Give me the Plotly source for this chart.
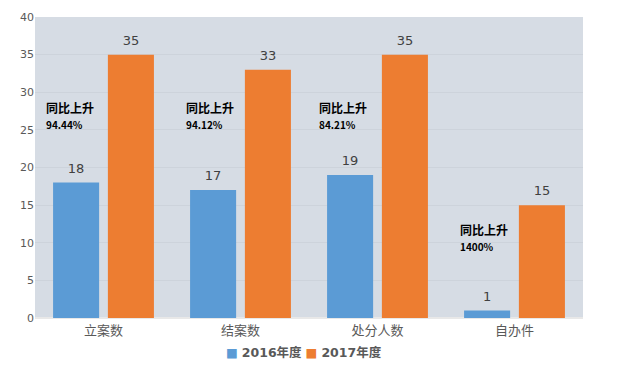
import plotly.graph_objects as go

categories = ["立案数", "结案数", "处分人数", "自办件"]
values_2016 = [18, 17, 19, 1]
values_2017 = [35, 33, 35, 15]
growth_labels = ["94.44%", "94.12%", "84.21%", "1400%"]
series_names = ["2016年度", "2017年度"]

FONT = "DejaVu Sans, Noto Sans CJK SC, sans-serif"
BG = "#D6DCE4"
colors = ["#5B9BD5", "#ED7D31"]

fig = go.Figure()
for name, vals, col, grp in [(series_names[0], values_2016, colors[0], "a"),
                             (series_names[1], values_2017, colors[1], "b")]:
    fig.add_trace(go.Bar(
        x=categories, y=vals, name=name, offsetgroup=grp,
        marker=dict(color=col, line=dict(width=0)),
    ))
for vals, grp in [(values_2016, "a"), (values_2017, "b")]:
    fig.add_trace(go.Scatter(
        x=categories, y=vals, mode="markers+text", offsetgroup=grp,
        text=[str(v) for v in vals], textposition="top center",
        marker=dict(size=9, color="rgba(0,0,0,0)"),
        textfont=dict(size=13, color="#404040", family=FONT),
        showlegend=False, hoverinfo="skip", cliponaxis=False,
    ))

ann_x = [-0.434, 0.588, 1.558, 2.588]
ann_y = [26.9, 26.9, 26.9, 10.7]
for i, g in enumerate(growth_labels):
    fig.add_annotation(
        x=ann_x[i], y=ann_y[i], xref="x", yref="y",
        xanchor="left", yanchor="middle", align="left", showarrow=False,
        text="<b>同比上升</b><br><span style='font-size:10px'><b>" + g + "</b></span>",
        font=dict(size=12, color="#000000", family="Noto Sans CJK SC, DejaVu Sans"),
    )

# legend drawn as text
legend_text = "&nbsp;".join(
    f"<span style='color:{c}'>■</span> <b>{n}</b>" for c, n in zip(colors, series_names)
)
fig.add_annotation(
    x=0.49, y=-0.113, xref="paper", yref="paper", xanchor="center", yanchor="middle",
    showarrow=False, text=legend_text,
    font=dict(size=12.5, color="#595959", family="DejaVu Sans, Noto Sans CJK SC"),
)

fig.update_layout(
    width=624, height=363,
    margin=dict(l=27, r=49, t=9, b=53, autoexpand=False),
    paper_bgcolor="white", plot_bgcolor=BG,
    barmode="group", bargap=0.2, bargroupgap=0.16,
    scattermode="group", scattergap=0.2,
    font=dict(family=FONT, color="#595959"),
    showlegend=False,
    xaxis=dict(tickfont=dict(size=13, color="#595959", family="Noto Sans CJK SC"),
               showline=False, ticks="", showgrid=False, ticklabelstandoff=3),
    yaxis=dict(range=[0, 40], dtick=5, tickfont=dict(size=11, color="#595959"),
               gridcolor="#CDD3DB", gridwidth=1, zeroline=True,
               zerolinecolor="#E8E8E8", ticks="", showline=False),
)

fig.write_html("out.html")
